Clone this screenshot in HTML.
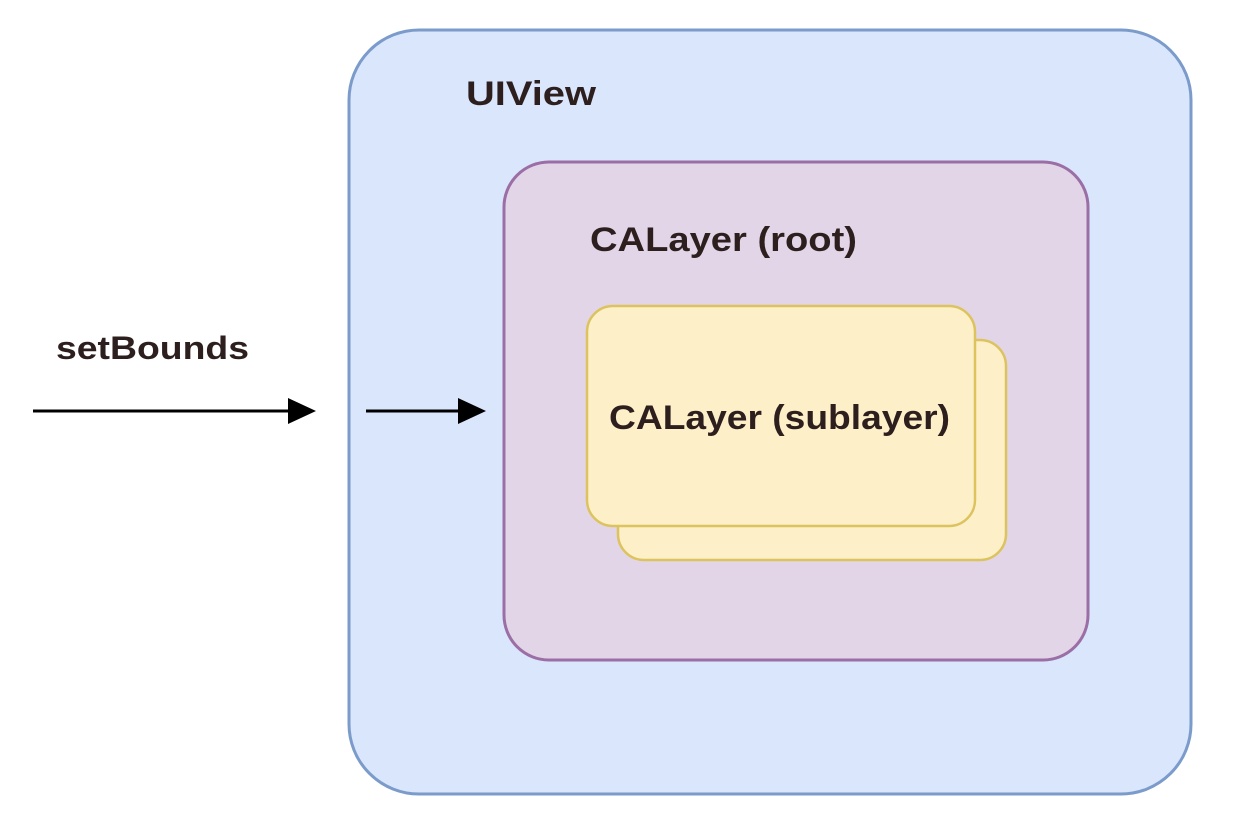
<!DOCTYPE html>
<html><head><meta charset="utf-8"><style>
html,body{margin:0;padding:0;background:#fff;width:1256px;height:840px;overflow:hidden}
</style></head><body>
<svg width="1256" height="840" xmlns="http://www.w3.org/2000/svg" font-family="Liberation Sans, DejaVu Sans, sans-serif" font-weight="bold">
<rect x="349" y="30" width="842" height="764" rx="70" fill="#dae6fb" stroke="#7b9bcb" stroke-width="3"/>
<text x="466" y="105" font-size="34" fill="#2e1f1f" textLength="130" lengthAdjust="spacingAndGlyphs">UIView</text>
<rect x="504" y="162" width="584" height="498" rx="45" fill="#e2d5e8" stroke="#9b6fa6" stroke-width="3"/>
<text x="590" y="251" font-size="34" fill="#2e1f1f" textLength="267" lengthAdjust="spacingAndGlyphs">CALayer (root)</text>
<rect x="618" y="340" width="388" height="220" rx="26" fill="#fdf0c9" stroke="#dcc35e" stroke-width="2.5"/>
<rect x="587" y="306" width="388" height="220" rx="26" fill="#fdf0c9" stroke="#dcc35e" stroke-width="2.5"/>
<text x="609" y="429" font-size="34" fill="#2e1f1f" textLength="341" lengthAdjust="spacingAndGlyphs">CALayer (sublayer)</text>
<text x="56" y="359" font-size="32" fill="#2e1f1f" textLength="193" lengthAdjust="spacingAndGlyphs">setBounds</text>
<line x1="33" y1="411" x2="292" y2="411" stroke="#000" stroke-width="3"/>
<polygon points="288,398 316,411 288,424" fill="#000"/>
<line x1="366" y1="411" x2="462" y2="411" stroke="#000" stroke-width="3"/>
<polygon points="458,398 486,411 458,424" fill="#000"/>
</svg>
</body></html>
